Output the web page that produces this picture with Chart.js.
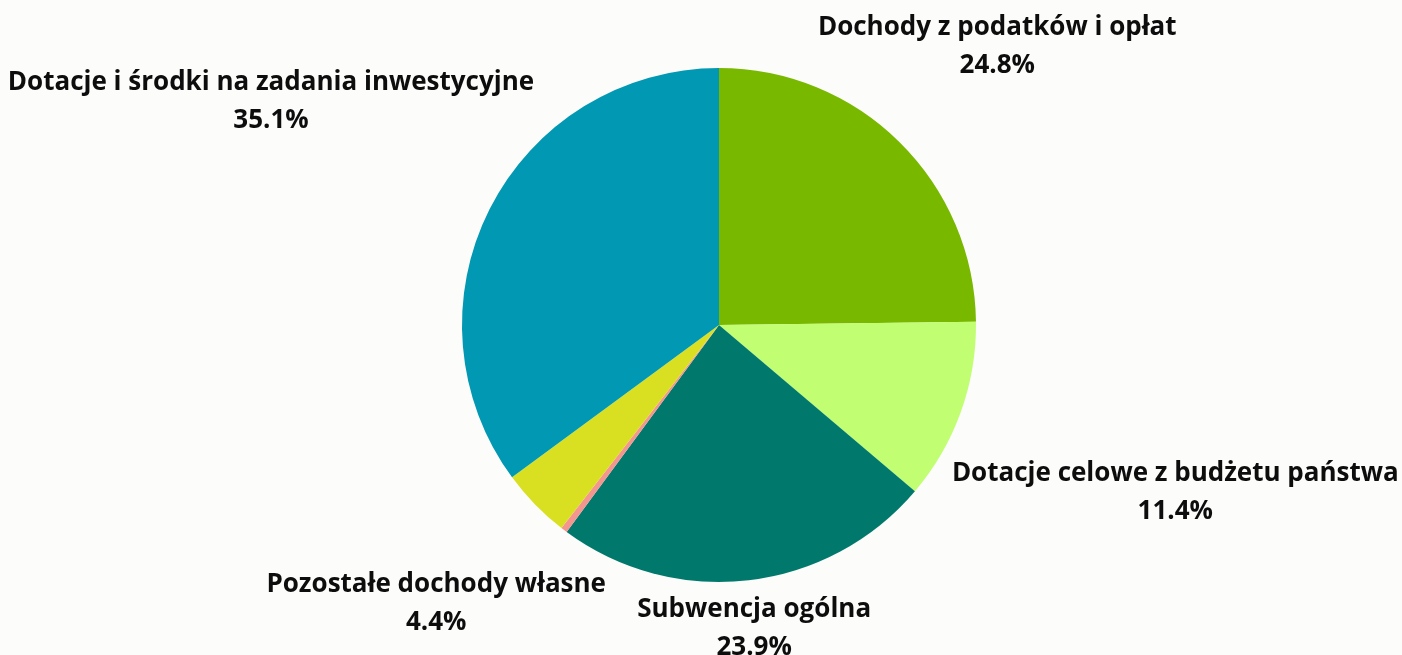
<!DOCTYPE html>
<html>
<head>
<meta charset="utf-8">
<script src="https://cdn.jsdelivr.net/npm/chart.js@4"></script>
<style>
    html, body { margin: 0; padding: 0; background: #fcfcfa; }
    .chart-container { position: relative; width: 1402px; height: 655px; }
</style>
</head>
<body>
<div class="chart-container"><canvas id="incomeChart"></canvas></div>
<script>
const labels = [
    'Dochody z podatków i opłat',
    'Dotacje celowe z budżetu państwa',
    'Subwencja ogólna',
    'Inne',
    'Pozostałe dochody własne',
    'Dotacje i środki na zadania inwestycyjne'
];
const shares = [24.8, 11.4, 23.9, 0.4, 4.4, 35.1];
const colors = ['#78b900', '#c2fe72', '#00796c', '#f4958f', '#d9e022', '#0098b2'];

const FONT = 'bold 26px "Open Sans"';
const LINE_H = 38;

// Labels placed along slice mid-angle, pushed out until the text box clears the pie
const outerLabels = {
    id: 'outerLabels',
    afterDatasetsDraw(chart) {
        const ctx = chart.ctx;
        const meta = chart.getDatasetMeta(0);
        ctx.save();
        ctx.font = FONT;
        ctx.fillStyle = '#0d0d0d';
        ctx.textAlign = 'center';
        ctx.textBaseline = 'middle';
        meta.data.forEach((arc, i) => {
            if (shares[i] < 1) return;
            const { x, y, startAngle, endAngle, outerRadius } = arc.getProps(['x', 'y', 'startAngle', 'endAngle', 'outerRadius'], true);
            const mid = (startAngle + endAngle) / 2;
            const line1 = labels[i];
            const line2 = shares[i].toFixed(1) + '%';
            const w = Math.max(ctx.measureText(line1).width, ctx.measureText(line2).width);
            const h = LINE_H * 2 - 10;
            const gap = 10;
            let d = outerRadius;
            for (; d < outerRadius + 400; d += 1) {
                const cx = x + Math.cos(mid) * d;
                const cy = y + Math.sin(mid) * d;
                const nx = Math.max(cx - w / 2, Math.min(x, cx + w / 2));
                const ny = Math.max(cy - h / 2, Math.min(y, cy + h / 2));
                if (Math.hypot(nx - x, ny - y) >= outerRadius + gap) break;
            }
            const cx = x + Math.cos(mid) * d;
            const cy = y + Math.sin(mid) * d + 3;
            ctx.fillText(line1, cx, cy - LINE_H / 2);
            ctx.fillText(line2, cx, cy + LINE_H / 2);
        });
        ctx.restore();
    }
};

const ctx = document.getElementById('incomeChart').getContext('2d');
new Chart(ctx, {
    type: 'pie',
    data: {
        labels: labels,
        datasets: [{
            data: shares,
            backgroundColor: colors,
            borderWidth: 0
        }]
    },
    options: {
        responsive: true,
        maintainAspectRatio: false,
        animation: false,
        layout: { padding: { top: 68, bottom: 73, left: 236, right: 200 } },
        plugins: {
            legend: { display: false },
            tooltip: { enabled: false }
        }
    },
    plugins: [outerLabels]
});
</script>
</body>
</html>
